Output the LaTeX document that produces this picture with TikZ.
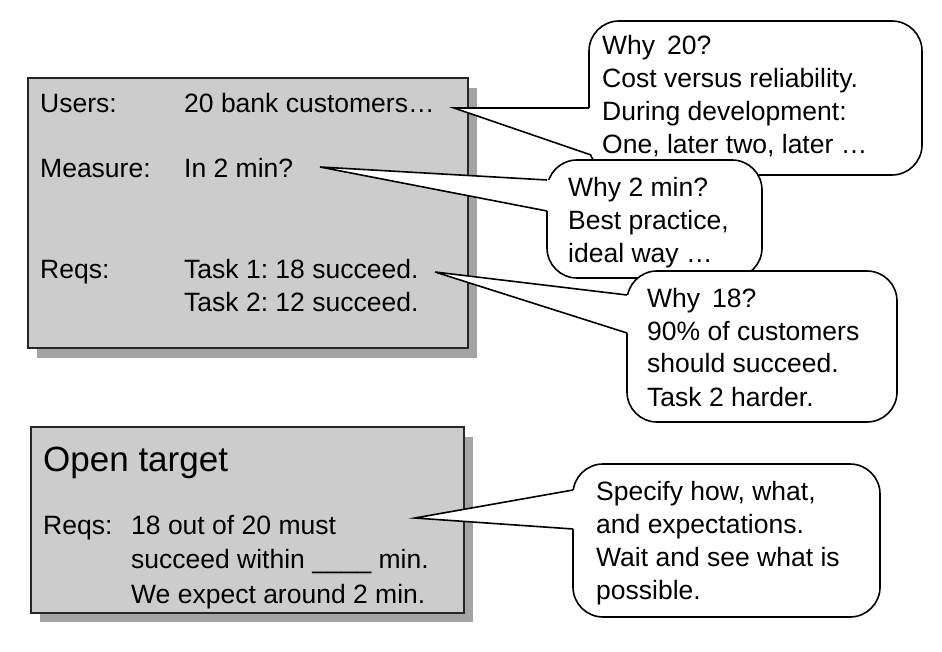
\documentclass[tikz,border=0pt]{standalone}
\usepackage{fontspec}
\setmainfont{Liberation Sans}
\definecolor{panelgray}{HTML}{CCCCCC}
\definecolor{shadowgray}{HTML}{A4A4A4}
\newcommand{\mylines}[1]{\begin{tabular}[t]{@{}l@{}}#1\end{tabular}}
\frenchspacing
\begin{document}
\begin{tikzpicture}[x=1pt,y=-1pt,
  panel/.style={draw=black!85, line width=1.6pt, fill=panelgray, inner sep=0pt, anchor=north west},
  shadowbox/.style={fill=shadowgray},
  bubble/.style={draw=black, line width=1.6pt, fill=white, rounded corners=30pt},
  tail/.style={draw=black, line width=1.6pt, line join=miter},
  txt/.style={anchor=base west, inner sep=0pt, font=\fontsize{26.5}{33}\selectfont},
  txtb/.style={anchor=base west, inner sep=0pt, font=\fontsize{26.5}{34.5}\selectfont},
  big/.style={anchor=base west, inner sep=0pt, font=\fontsize{35}{42}\selectfont}]
\useasboundingbox (0,0) rectangle (942,652);

% top panel
\fill[shadowbox] (37,88) rectangle (477,358);
\node[panel, minimum width=440pt, minimum height=270pt] (box1) at (27,77) {};
\node[txt] (users) at (40,113) {Users:};
\node[txt] (usersv) at (184,113) {20 bank customers…};
\node[txt] (measure) at (40,178) {Measure:};
\node[txt] (measurev) at (184,178) {In 2 min?};
\node[txt] (reqs) at (40,279) {Reqs:};
\node[txt] (reqsv) at (184,279) {\mylines{Task 1: 18 succeed.\\Task 2: 12 succeed.}};

% bottom panel
\fill[shadowbox] (40,437) rectangle (473,622);
\node[panel, minimum width=433pt, minimum height=186pt] (box2) at (30,426) {};
\node[big] (open) at (43,471) {Open target};
\node[txtb] (reqs2) at (43,534) {Reqs:};
\node[txtb] (reqs2v) at (131,534) {\mylines{18 out of 20 must\\succeed within \textunderscore\textunderscore\textunderscore\textunderscore\ min.\\We expect around 2 min.}};

% callout 1
\draw[bubble] (589,21) rectangle (922,175);
\coordinate (t1) at (454,108);
\coordinate (t1a) at (589,108);
\coordinate (t1b) at (591,155);
\fill[white] (t1a) -- (t1) -- (t1b) -- ([xshift=6pt]t1b) -- ([xshift=6pt]t1a) -- cycle;
\draw[tail] (t1a) -- (t1) -- (t1b);
\node[txt] (c1) at (602,55) {\mylines{Why\hspace{12pt}20?\\Cost versus reliability.\\During development:\\One, later two, later …}};

% callout 2
\draw[bubble] (547,160) rectangle (762,278);
\coordinate (t2) at (320,167);
\coordinate (t2a) at (547,180);
\coordinate (t2b) at (547,211);
\fill[white] (t2a) -- (t2) -- (t2b) -- ([xshift=6pt]t2b) -- ([xshift=6pt]t2a) -- cycle;
\draw[tail] (t2a) -- (t2) -- (t2b);
\node[txt] (c2) at (568,197) {\mylines{Why 2 min?\\Best practice,\\ideal way …}};

% callout 3
\draw[bubble] (627,271) rectangle (897,422);
\coordinate (t3) at (435,272);
\coordinate (t3a) at (627,295);
\coordinate (t3b) at (627,333);
\fill[white] (t3a) -- (t3) -- (t3b) -- ([xshift=6pt]t3b) -- ([xshift=6pt]t3a) -- cycle;
\draw[tail] (t3a) -- (t3) -- (t3b);
\node[txt] (c3) at (647,307) {\mylines{Why\hspace{12pt}18?\\90\% of customers\\should succeed.\\Task 2 harder.}};

% callout 4
\draw[bubble] (573,464) rectangle (880,617);
\coordinate (t4) at (415,518);
\coordinate (t4a) at (573,490);
\coordinate (t4b) at (573,529);
\fill[white] (t4a) -- (t4) -- (t4b) -- ([xshift=6pt]t4b) -- ([xshift=6pt]t4a) -- cycle;
\draw[tail] (t4a) -- (t4) -- (t4b);
\node[txt] (c4) at (596,500) {\mylines{Specify how, what,\\and expectations.\\Wait and see what is\\possible.}};
\end{tikzpicture}
\end{document}
